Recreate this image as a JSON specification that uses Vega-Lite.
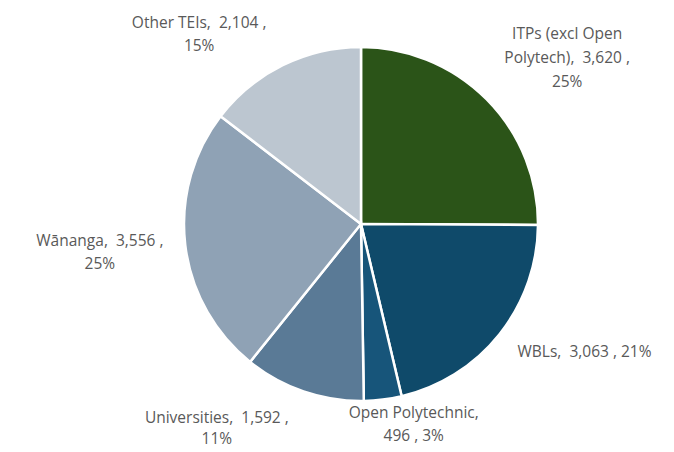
{
  "$schema": "https://vega.github.io/schema/vega-lite/v6.json",
  "autosize": "none",
  "width": 626,
  "height": 448,
  "padding": {"left": 48, "right": 0, "top": 0, "bottom": 4},
  "background": "white",
  "view": {"stroke": null},
  "data": {
    "values": [
      {"k": 1, "name": "ITPs (excl Open Polytech)", "value": 3620, "label": "ITPs (excl Open\nPolytech),\u00a0 3,620 ,\n25%"},
      {"k": 2, "name": "WBLs", "value": 3063, "label": "WBLs,\u00a0 3,063 , 21%"},
      {"k": 3, "name": "Open Polytechnic", "value": 496, "label": "Open Polytechnic,\n496 , 3%"},
      {"k": 4, "name": "Universities", "value": 1592, "label": "Universities,\u00a0 1,592 ,\n11%"},
      {"k": 5, "name": "Wānanga", "value": 3556, "label": "Wānanga,\u00a0 3,556 ,\n25%"},
      {"k": 6, "name": "Other TEIs", "value": 2104, "label": "Other TEIs,\u00a0 2,104 ,\n15%"}
    ]
  },
  "encoding": {
    "theta": {"field": "value", "type": "quantitative", "stack": true},
    "order": {"field": "k", "type": "quantitative"}
  },
  "layer": [
    {
      "mark": {"type": "arc", "outerRadius": 177, "stroke": "white", "strokeWidth": 2.5},
      "encoding": {
        "color": {
          "field": "name",
          "type": "nominal",
          "legend": null,
          "scale": {
            "domain": ["ITPs (excl Open Polytech)", "WBLs", "Open Polytechnic", "Universities", "Wānanga", "Other TEIs"],
            "range": ["#2b5418", "#0f4a6a", "#17557a", "#5a7a96", "#8fa2b5", "#bcc6d0"]
          }
        }
      }
    },
    {
      "mark": {"type": "text", "radius": 240, "dx": 36, "dy": -21, "lineBreak": "\n", "lineHeight": 24, "fontSize": 15.5, "font": "Open Sans", "color": "#595959"},
      "encoding": {"text": {"condition": {"test": "datum.k == 1", "field": "label"}, "value": ""}}
    },
    {
      "mark": {"type": "text", "radius": 200, "dx": 67, "dy": 3, "lineBreak": "\n", "lineHeight": 24, "fontSize": 15.5, "font": "Open Sans", "color": "#595959"},
      "encoding": {"text": {"condition": {"test": "datum.k == 2", "field": "label"}, "value": ""}}
    },
    {
      "mark": {"type": "text", "radius": 200, "dx": 28, "dy": -9, "lineBreak": "\n", "lineHeight": 23, "fontSize": 15.5, "font": "Open Sans", "color": "#595959"},
      "encoding": {"text": {"condition": {"test": "datum.k == 3", "field": "label"}, "value": ""}}
    },
    {
      "mark": {"type": "text", "radius": 210, "dx": -76, "dy": -5, "lineBreak": "\n", "lineHeight": 21, "fontSize": 15.5, "font": "Open Sans", "color": "#595959"},
      "encoding": {"text": {"condition": {"test": "datum.k == 4", "field": "label"}, "value": ""}}
    },
    {
      "mark": {"type": "text", "radius": 265, "dx": 2, "dy": -15, "lineBreak": "\n", "lineHeight": 23, "fontSize": 15.5, "font": "Open Sans", "color": "#595959"},
      "encoding": {"text": {"condition": {"test": "datum.k == 5", "field": "label"}, "value": ""}}
    },
    {
      "mark": {"type": "text", "radius": 210, "dx": -69, "dy": -13, "lineBreak": "\n", "lineHeight": 23, "fontSize": 15.5, "font": "Open Sans", "color": "#595959"},
      "encoding": {"text": {"condition": {"test": "datum.k == 6", "field": "label"}, "value": ""}}
    }
  ]
}
